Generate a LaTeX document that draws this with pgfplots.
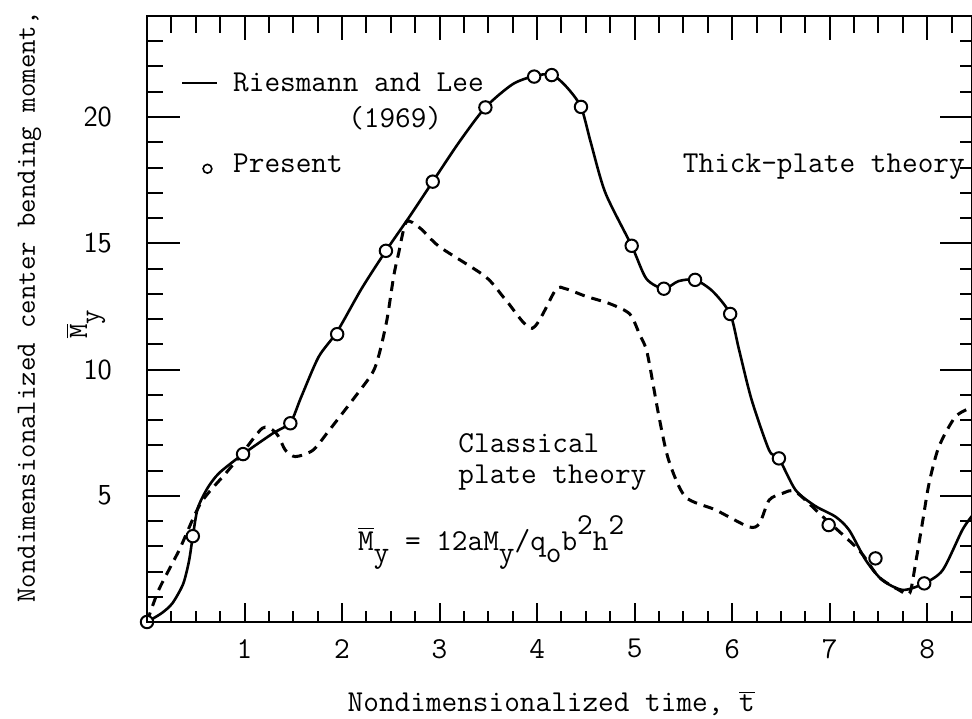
\documentclass[border=0pt]{standalone}
\usepackage{fontspec}
\usepackage{pgfplots}
\pgfplotsset{compat=1.18}
\newcommand\tsub[1]{\raisebox{-0.42em}{#1}}
\newcommand\tsup[1]{\raisebox{0.5em}{#1}}
\begin{document}
\begin{tikzpicture}[font=\fontsize{15.2}{18}\selectfont\ttfamily]
\useasboundingbox (-73.5pt,-48pt) rectangle (412.5pt,311pt);
\pgfplotsset{
  base/.style={scale only axis, width=412.5pt, height=303pt,
    xmin=0, xmax=8.46, ymin=0, ymax=24,
    axis line style={line width=1.1pt},
    tick style={line width=1pt, black},
    tick align=inside},
}
% axis 1: data, bottom x ticks
\begin{axis}[base, clip=false,
  xtick={0,1,...,8}, xticklabels={,1,2,3,4,5,6,7,8},
  minor xtick={0,0.25,...,8.46},
  xtick pos=left, ytick=\empty,
  major tick length=9.5pt, minor tick length=5.5pt,
  xticklabel style={font=\fontsize{15.2}{18}\selectfont\ttfamily, yshift=-5pt},
  xlabel={Nondimensionalized time, $\overline{\mbox{t}}$},
  xlabel style={at={(axis description cs:0.49,-0.148)}, anchor=base, font=\fontsize{15.2}{18}\selectfont\ttfamily},
  ylabel={Nondimensionalized center bending moment,},
  ylabel style={at={(axis description cs:-0.1358,0.52)}, anchor=base, font=\fontsize{14}{17}\selectfont\ttfamily},
]
% Riesmann and Lee (1969) - thick-plate theory
\addplot[smooth, tension=0.45, line width=1.3pt] coordinates {
(0,0) (0.15,0.35) (0.26,0.74) (0.37,1.5) (0.43,2.4) (0.47,3.4) (0.52,4.5)
(0.62,5.3) (0.74,5.9) (0.985,6.65) (1.29,7.47) (1.47,7.9) (1.58,8.9)
(1.76,10.5) (1.95,11.5) (2.2,13.2) (2.45,14.7) (2.7,16.1) (2.93,17.44)
(3.2,19.0) (3.47,20.38) (3.75,21.3) (3.97,21.62) (4.15,21.68) (4.3,21.2)
(4.45,20.4) (4.55,19.0) (4.7,17.0) (4.97,14.9) (5.12,13.6) (5.3,13.2)
(5.45,13.5) (5.62,13.55) (5.8,13.1) (5.98,12.2) (6.07,10.8) (6.2,8.8)
(6.38,6.8) (6.48,6.48) (6.65,5.23) (6.85,4.6) (7.06,4.17) (7.2,3.64)
(7.37,2.45) (7.54,1.66) (7.75,1.27) (7.97,1.53) (8.16,2.06) (8.36,3.64) (8.46,4.2)
};
% Classical plate theory
\addplot[smooth, tension=0.45, line width=1.5pt, dash pattern=on 5pt off 3.5pt] coordinates {
(0,0) (0.12,1.27) (0.33,2.85) (0.55,4.7) (0.81,5.9) (0.96,6.6) (1.18,7.67)
(1.29,7.6) (1.35,7.34) (1.42,6.8) (1.52,6.55) (1.70,6.8) (1.87,7.6)
(2.11,8.8) (2.31,9.85) (2.38,10.6) (2.46,11.96) (2.53,13.7) (2.58,14.6)
(2.66,15.85) (2.8,15.6) (3.0,14.86) (3.47,13.68) (3.68,12.75) (3.95,11.63)
(4.19,13.15) (4.29,13.2) (4.5,12.9) (4.75,12.6) (4.95,12.2) (5.05,11.4)
(5.13,10.64) (5.25,8.13) (5.35,6.4) (5.52,4.96) (5.83,4.44) (6.17,3.77)
(6.28,3.9) (6.38,4.83) (6.52,5.1) (6.65,5.16) (6.93,4.17) (7.30,2.85)
(7.5,1.8) (7.71,1.27) (7.82,1.14) (7.88,2.3) (7.95,3.9) (8.02,5.5)
(8.12,6.94) (8.29,8.13) (8.46,8.5)
};
% Present
\addplot[only marks, mark=*, mark size=3.1pt, mark options={fill=white, draw=black, line width=1pt}] coordinates {
(0,0) (0.47,3.4) (0.985,6.65) (1.47,7.87) (1.95,11.4) (2.45,14.7) (2.93,17.44)
(3.47,20.38) (3.97,21.6) (4.15,21.66) (4.45,20.4) (4.97,14.9) (5.3,13.2)
(5.62,13.55) (5.98,12.2) (6.48,6.48) (6.99,3.84) (7.47,2.52) (7.97,1.53)
};
\draw[line width=1.1pt] (axis cs:0.36,21.35) -- (axis cs:0.72,21.35);
\node[anchor=base west, inner sep=0pt] at (axis cs:0.88,21.0) {Riesmann and Lee};
\node[anchor=base west, inner sep=0pt] at (axis cs:2.06,19.6) {(1969)};
\draw[line width=0.8pt] (axis cs:0.62,17.95) circle (2.2pt);
\node[anchor=base west, inner sep=0pt] at (axis cs:0.88,17.8) {Present};
\node[anchor=base east, inner sep=0pt] at (axis cs:8.39,17.8) {Thick-plate theory};
\node[anchor=base west, inner sep=0pt] at (axis cs:3.19,6.7) {Classical};
\node[anchor=base west, inner sep=0pt] at (axis cs:3.19,5.5) {plate theory};
\node[anchor=base west, inner sep=0pt] at (axis cs:2.16,2.85) {$\overline{\mbox{M}}$\tsub{y} = 12aM\tsub{y}/q\tsub{o}b\tsup{2}h\tsup{2}};
\node[rotate=90, font=\fontsize{14}{17}\selectfont\ttfamily] at (axis cs:-0.63,11.8) {$\overline{\mbox{M}}$\tsub{y}};
\end{axis}
% axis 2: top x ticks
\begin{axis}[base,
  xtick={0,1,...,8}, xticklabels={}, minor xtick={0,0.25,...,8.46},
  xtick pos=right, ytick=\empty,
  major tick length=12pt, minor tick length=8.5pt]
\end{axis}
% axis 3: left y ticks
\begin{axis}[base,
  ytick={0,5,10,15,20}, yticklabels={,5,10,15,20}, minor ytick={0,1,...,24},
  ytick pos=left, xtick=\empty,
  major tick length=16.5pt, minor tick length=8pt,
  yticklabel style={font=\fontsize{14.5}{17}\selectfont\sffamily, xshift=-14pt}]
\end{axis}
% axis 4: right y ticks
\begin{axis}[base,
  ytick={0,5,10,15,20}, yticklabels={}, minor ytick={0,1,...,24},
  ytick pos=right, xtick=\empty,
  major tick length=16pt, minor tick length=6pt]
\end{axis}
\end{tikzpicture}
\end{document}
